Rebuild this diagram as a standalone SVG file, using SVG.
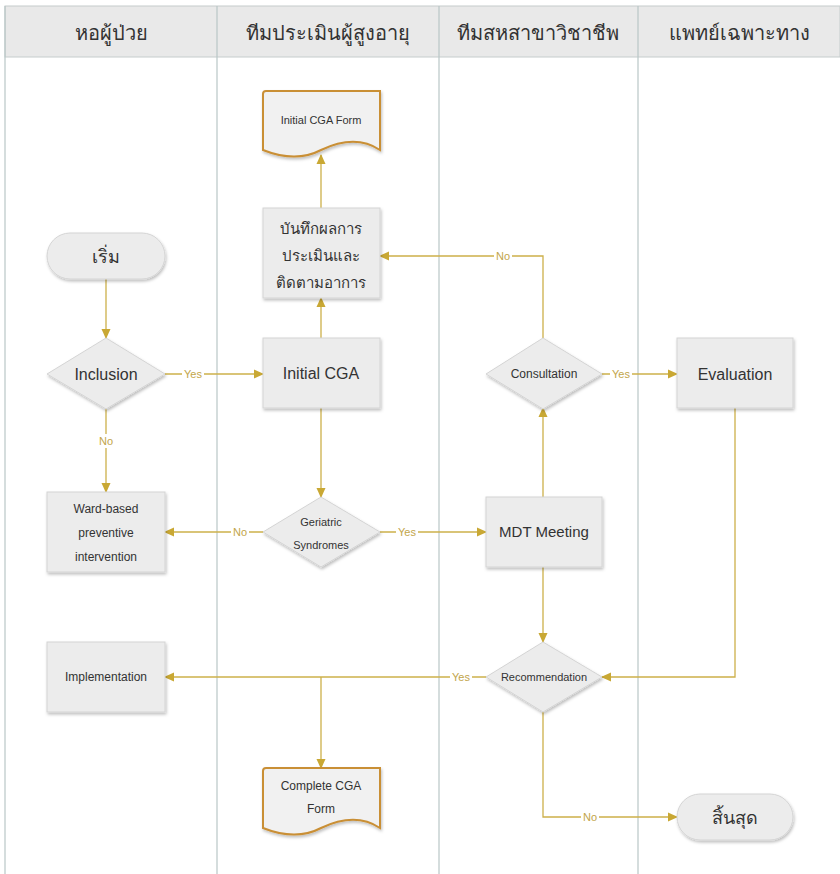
<svg xmlns="http://www.w3.org/2000/svg" width="840" height="874" viewBox="0 0 840 874">
  <style>
    .lane-head { fill: #e9e9e9; stroke: #c5cccc; stroke-width: 1; }
    .lane-line { stroke: #b9c6c6; stroke-width: 1.2; fill: none; }
    .hd { font-family: "Liberation Sans", "Noto Sans", sans-serif; font-size: 20px; fill: #333; text-anchor: middle; }
    .shape { fill: #ececec; stroke: #d4d4d4; stroke-width: 1; filter: url(#shadow); }
    .doc { fill: #f1f1f1; stroke: #c98f36; stroke-width: 2; filter: url(#shadow); }
    .t { font-family: "Liberation Sans", "Noto Sans", sans-serif; fill: #333; text-anchor: middle; }
    .conn { stroke: #cdb04a; stroke-width: 1.3; fill: none; }
    .lbl { font-family: "Liberation Sans", "Noto Sans", sans-serif; font-size: 11px; fill: #c2a54a; text-anchor: middle; }
    .lblbg { fill: #ffffff; }
  </style>
  <defs>
    <filter id="shadow" x="-10%" y="-10%" width="125%" height="130%">
      <feDropShadow dx="1" dy="2" stdDeviation="1.5" flood-color="#000" flood-opacity="0.25"/>
    </filter>
    <marker id="arrow" markerWidth="10" markerHeight="10" refX="9" refY="5" orient="auto" markerUnits="userSpaceOnUse">
      <path d="M0,0.5 L10,5 L0,9.5 Z" fill="#c9a834"/>
    </marker>
  </defs>

  <rect x="0" y="0" width="840" height="874" fill="#ffffff"/>

  <!-- swimlanes -->
  <g id="lanes">
    <rect class="lane-head" x="5" y="6" width="835" height="51"/>
    <line class="lane-line" x1="5" y1="6" x2="5" y2="874"/>
    <line class="lane-line" x1="217" y1="6" x2="217" y2="874"/>
    <line class="lane-line" x1="439" y1="6" x2="439" y2="874"/>
    <line class="lane-line" x1="638" y1="6" x2="638" y2="874"/>
    <text class="hd" x="111" y="40">หอผู้ป่วย</text>
    <text class="hd" x="328" y="40">ทีมประเมินผู้สูงอายุ</text>
    <text class="hd" x="538" y="40">ทีมสหสาขาวิชาชีพ</text>
    <text class="hd" x="739" y="40">แพทย์เฉพาะทาง</text>
  </g>

  <!-- connectors -->
  <g id="connectors">
    <line class="conn" x1="106" y1="279" x2="106" y2="338" marker-end="url(#arrow)"/>
    <line class="conn" x1="165" y1="374" x2="263" y2="374" marker-end="url(#arrow)"/>
    <line class="conn" x1="106" y1="408" x2="106" y2="492" marker-end="url(#arrow)"/>
    <line class="conn" x1="321" y1="338" x2="321" y2="298" marker-end="url(#arrow)"/>
    <line class="conn" x1="321" y1="208" x2="321" y2="155" marker-end="url(#arrow)"/>
    <line class="conn" x1="321" y1="408" x2="321" y2="497" marker-end="url(#arrow)"/>
    <line class="conn" x1="263" y1="532" x2="165" y2="532" marker-end="url(#arrow)"/>
    <line class="conn" x1="380" y1="532" x2="486" y2="532" marker-end="url(#arrow)"/>
    <line class="conn" x1="543" y1="497" x2="543" y2="408" marker-end="url(#arrow)"/>
    <polyline class="conn" points="543,338 543,256 380,256" marker-end="url(#arrow)"/>
    <line class="conn" x1="602" y1="374" x2="677" y2="374" marker-end="url(#arrow)"/>
    <line class="conn" x1="543" y1="567" x2="543" y2="642" marker-end="url(#arrow)"/>
    <polyline class="conn" points="735,408 735,677 602,677" marker-end="url(#arrow)"/>
    <line class="conn" x1="486" y1="677" x2="165" y2="677" marker-end="url(#arrow)"/>
    <line class="conn" x1="321" y1="677" x2="321" y2="768" marker-end="url(#arrow)"/>
    <polyline class="conn" points="543,712 543,817 677,817" marker-end="url(#arrow)"/>

    <rect class="lblbg" x="182" y="367" width="22" height="14"/>
    <text class="lbl" x="193" y="378">Yes</text>
    <rect class="lblbg" x="97" y="434" width="18" height="14"/>
    <text class="lbl" x="106" y="445">No</text>
    <rect class="lblbg" x="231" y="525" width="18" height="14"/>
    <text class="lbl" x="240" y="536">No</text>
    <rect class="lblbg" x="396" y="525" width="22" height="14"/>
    <text class="lbl" x="407" y="536">Yes</text>
    <rect class="lblbg" x="494" y="249" width="18" height="14"/>
    <text class="lbl" x="503" y="260">No</text>
    <rect class="lblbg" x="610" y="367" width="22" height="14"/>
    <text class="lbl" x="621" y="378">Yes</text>
    <rect class="lblbg" x="450" y="670" width="22" height="14"/>
    <text class="lbl" x="461" y="681">Yes</text>
    <rect class="lblbg" x="581" y="810" width="18" height="14"/>
    <text class="lbl" x="590" y="821">No</text>
  </g>

  <!-- nodes -->
  <g id="start">
    <rect class="shape" x="47" y="233" width="118" height="46" rx="23" ry="23"/>
    <text class="t" x="106" y="263" font-size="18">เริ่ม</text>
  </g>
  <g id="inclusion">
    <polygon class="shape" points="106,338 165,374 106,409 47,374"/>
    <text class="t" x="106" y="380" font-size="16">Inclusion</text>
  </g>
  <g id="ward-based">
    <rect class="shape" x="47" y="492" width="118" height="80"/>
    <text class="t" x="106" y="513" font-size="12">Ward-based</text>
    <text class="t" x="106" y="537" font-size="12">preventive</text>
    <text class="t" x="106" y="561" font-size="12">intervention</text>
  </g>
  <g id="implementation">
    <rect class="shape" x="47" y="642" width="118" height="70"/>
    <text class="t" x="106" y="681" font-size="12">Implementation</text>
  </g>
  <g id="initial-cga-form">
    <path class="doc" d="M266,91 H380 V150 C362,138 342,140 321,150 C302,160 283,158 263,150 V94 Q263,91 266,91 Z"/>
    <text class="t" x="321" y="124" font-size="11">Initial CGA Form</text>
  </g>
  <g id="record">
    <rect class="shape" x="263" y="208" width="117" height="90"/>
    <text class="t" x="321" y="234" font-size="15">บันทึกผลการ</text>
    <text class="t" x="321" y="261" font-size="15">ประเมินและ</text>
    <text class="t" x="321" y="288" font-size="15">ติดตามอาการ</text>
  </g>
  <g id="initial-cga">
    <rect class="shape" x="263" y="338" width="117" height="70"/>
    <text class="t" x="321" y="379" font-size="16">Initial CGA</text>
  </g>
  <g id="geriatric">
    <polygon class="shape" points="321,497 380,532 321,567 263,532"/>
    <text class="t" x="321" y="526" font-size="11">Geriatric</text>
    <text class="t" x="321" y="549" font-size="11">Syndromes</text>
  </g>
  <g id="complete-cga-form">
    <path class="doc" d="M266,768 H380 V828 C362,816 342,818 321,828 C302,838 283,836 263,828 V771 Q263,768 266,768 Z"/>
    <text class="t" x="321" y="790" font-size="12">Complete CGA</text>
    <text class="t" x="321" y="813" font-size="12">Form</text>
  </g>
  <g id="consultation">
    <polygon class="shape" points="543,338 602,374 543,409 486,374"/>
    <text class="t" x="544" y="378" font-size="12">Consultation</text>
  </g>
  <g id="mdt-meeting">
    <rect class="shape" x="486" y="497" width="116" height="70"/>
    <text class="t" x="544" y="537" font-size="15">MDT Meeting</text>
  </g>
  <g id="recommendation">
    <polygon class="shape" points="543,642 602,677 543,712 486,677"/>
    <text class="t" x="544" y="681" font-size="11">Recommendation</text>
  </g>
  <g id="evaluation">
    <rect class="shape" x="677" y="338" width="116" height="70"/>
    <text class="t" x="735" y="380" font-size="16">Evaluation</text>
  </g>
  <g id="end">
    <rect class="shape" x="677" y="794" width="116" height="46" rx="23" ry="23"/>
    <text class="t" x="735" y="824" font-size="18">สิ้นสุด</text>
  </g>
</svg>
